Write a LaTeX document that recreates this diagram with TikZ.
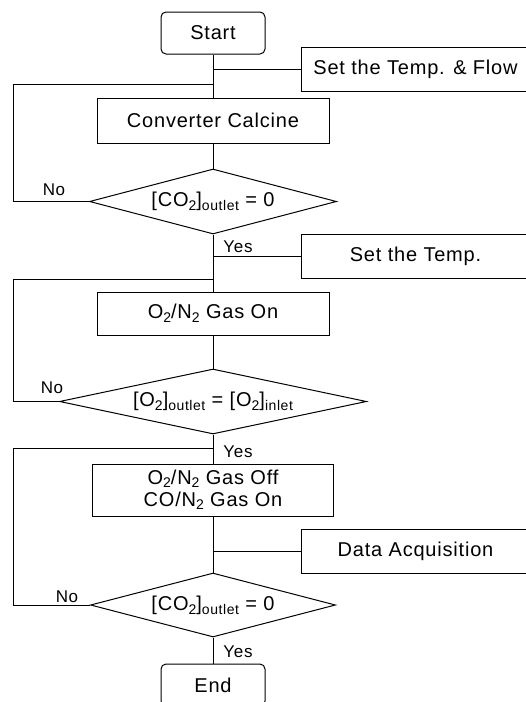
\documentclass[tikz,border=0pt]{standalone}
\usepackage{fontspec}
\setmainfont{Liberation Sans}[LetterSpace=4]
\usetikzlibrary{shapes.geometric}
\newcommand\dnsub[1]{\raisebox{-0.4ex}{\fontsize{14}{14}\selectfont #1}}
\newcommand\dnsubb[1]{\raisebox{-0.25ex}{\fontsize{14}{14}\selectfont #1}}
\tikzset{
  every node/.style={font=\fontsize{20}{20}\selectfont},
  line/.style={line width=1pt},
  proc/.style={draw, line width=1pt, rectangle, inner sep=0, align=center},
  term/.style={draw, line width=1pt, rounded corners=5pt, minimum width=104, minimum height=42, inner sep=0},
  side/.style={draw, line width=1pt, minimum width=229, minimum height=44, inner sep=0},
  dec/.style={draw, line width=1pt, diamond, inner sep=0, aspect=4},
  lbl/.style={font=\fontsize{17}{17}\selectfont, inner sep=0}
}
\begin{document}
\begin{tikzpicture}[x=1pt,y=-1pt]
\useasboundingbox (0,0) rectangle (526,702);
\clip (0,0) rectangle (526,702);
% nodes
\node[term] (start) at (213,33) {Start};
\node[side] (s1) at (415.5,69) {Set the Temp. \& Flow};
\node[proc, minimum width=232, minimum height=45] (conv) at (213,120.5) {Converter Calcine};
\node[dec, minimum width=247, minimum height=65] (d1) at (213,201.5) {[CO\dnsub{2}]\dnsub{outlet} = 0};
\node[side] (s2) at (415.5,256) {Set the Temp.};
\node[proc, minimum width=232, minimum height=43] (gon) at (213,313.5) {O\dnsub{2}/N\dnsub{2} Gas On};
\node[dec, minimum width=307, minimum height=65] (d2) at (213,401.5) {[O\dnsub{2}]\dnsub{outlet} = [O\dnsub{2}]\dnsub{inlet}};
\node[proc, minimum width=241, minimum height=52, font=\fontsize{20}{22}\selectfont] (goff) at (213,490) {O\dnsubb{2}/N\dnsubb{2} Gas Off\\CO/N\dnsubb{2} Gas On};
\node[side] (s3) at (415.5,551) {Data Acquisition};
\node[dec, minimum width=245, minimum height=64] (d3) at (213,605) {[CO\dnsub{2}]\dnsub{outlet} = 0};
\node[term] (end) at (213,685) {End};
% labels
\node[lbl] (no1) at (54,190) {No};
\node[lbl] (no2) at (52,388) {No};
\node[lbl] (no3) at (67,597) {No};
\node[lbl] (yes1) at (238,247) {Yes};
\node[lbl] (yes2) at (238,452) {Yes};
\node[lbl] (yes3) at (238,652) {Yes};
% junction coordinates
\coordinate (L) at (13,0);
\coordinate (f1) at (213,84);
\coordinate (f2) at (213,279);
\coordinate (f3) at (213,448);
% main flow
\draw[line] (start) -- (conv);
\draw[line] (conv) -- (d1);
\draw[line] (d1) -- (gon);
\draw[line] (gon) -- (d2);
\draw[line] (d2) -- (goff);
\draw[line] (goff) -- (d3);
\draw[line] (d3) -- (end);
% side boxes
\draw[line] (s1.west) -- (s1.west -| conv.north);
\draw[line] (s2.west) -- (s2.west -| gon.north);
\draw[line] (s3.west) -- (s3.west -| goff.south);
% feedback loops
\draw[line] (d1.west) -- (d1.west -| L) |- (f1);
\draw[line] (d2.west) -- (d2.west -| L) |- (f2);
\draw[line] (d3.west) -- (d3.west -| L) |- (f3);
\end{tikzpicture}
\end{document}
